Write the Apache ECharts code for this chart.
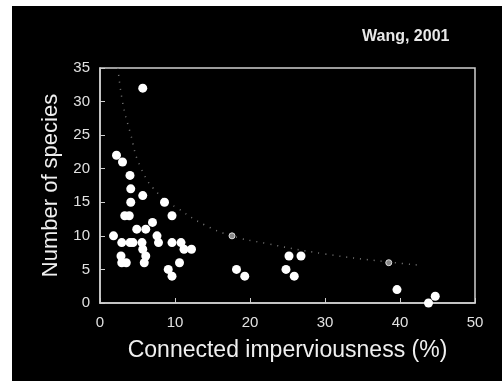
<!DOCTYPE html>
<html>
<head>
<meta charset="utf-8">
<script src="https://cdn.jsdelivr.net/npm/echarts@6/dist/echarts.min.js"></script>
<style>
  html, body { margin: 0; padding: 0; background: #fff; }
  #main { width: 502px; height: 381px; }
</style>
</head>
<body>
<div id="main"></div>
<script>
// imperviousness (%) / number of species
var siteX = [5.7, 2.2, 3.0, 4.0, 4.1, 4.1, 5.7, 8.6, 3.3, 3.9, 9.6, 7.0, 4.9, 6.1,
             1.8, 7.6, 2.9, 4.0, 4.4, 5.6, 7.8, 9.6, 10.8, 11.2, 12.2, 5.7, 2.8, 6.1,
             2.9, 3.5, 5.9, 10.6, 9.1, 9.6, 18.2, 19.3, 24.8, 25.2, 26.8, 25.9,
             39.6, 43.8, 44.7];
var siteY = [32, 22, 21, 19, 17, 15, 16, 15, 13, 13, 13, 12, 11, 11,
             10, 10, 9, 9, 9, 9, 9, 9, 9, 8, 8, 8, 7, 7,
             6, 6, 6, 6, 5, 4, 5, 4, 5, 7, 7, 4,
             2, 0, 1];
// dotted trend curve
var curveX = [2.4, 3.0, 4.0, 5.5, 8.0, 10.5, 14.0, 17.6, 22.0, 30.0, 38.5, 43.0];
var curveY = [35, 30, 25.5, 20, 16, 14, 11.6, 10, 8.9, 7.3, 6.1, 5.6];
var markX = [17.6, 38.5];
var markY = [10, 6];

function pairs(xs, ys) {
  return xs.map(function (x, i) { return [x, ys[i]]; });
}

var chart = echarts.init(document.getElementById('main'));
var axisGray = '#cfcfcf';

chart.setOption({
  backgroundColor: '#ffffff',
  animation: false,
  graphic: [
    { type: 'rect', z: -100, shape: { x: 12, y: 6, width: 490, height: 375 }, style: { fill: '#000' } },
    { type: 'text', left: 362, top: 29, style: { text: 'Wang, 2001', fill: '#e8e8e8', font: 'bold 16px "Liberation Sans", Arial, sans-serif' } }
  ],
  grid: {
    left: 100, right: 27, top: 68, bottom: 78,
    show: true, borderColor: axisGray, borderWidth: 1.5, backgroundColor: 'transparent'
  },
  xAxis: {
    type: 'value', min: 0, max: 50, interval: 10,
    name: 'Connected imperviousness (%)', nameLocation: 'middle', nameGap: 36,
    nameTextStyle: { color: '#f0f0f0', fontSize: 23, fontFamily: 'Liberation Sans' },
    axisLine: { lineStyle: { color: axisGray, width: 1.5 } },
    axisTick: { inside: true, length: 5, lineStyle: { color: axisGray } },
    axisLabel: { color: '#e0e0e0', fontSize: 15, margin: 12, fontFamily: 'Liberation Sans' },
    splitLine: { show: false }
  },
  yAxis: {
    type: 'value', min: 0, max: 35, interval: 5,
    name: 'Number of species', nameLocation: 'middle', nameGap: 36, nameRotate: 90,
    nameTextStyle: { color: '#f0f0f0', fontSize: 22, fontFamily: 'Liberation Sans' },
    axisLine: { lineStyle: { color: axisGray, width: 1.5 } },
    axisTick: { inside: true, length: 5, lineStyle: { color: axisGray } },
    axisLabel: { color: '#e0e0e0', fontSize: 15, margin: 10, fontFamily: 'Liberation Sans' },
    splitLine: { show: false }
  },
  series: [
    {
      type: 'line', smooth: true, showSymbol: false,
      data: pairs(curveX, curveY),
      lineStyle: { color: '#7a7a7a', width: 1.5, type: [1, 6] },
      z: 1
    },
    {
      type: 'scatter', symbolSize: 6,
      data: pairs(markX, markY),
      itemStyle: { color: '#888', borderColor: '#ddd', borderWidth: 1, opacity: 1 },
      z: 2
    },
    {
      type: 'scatter', symbolSize: 9,
      data: pairs(siteX, siteY),
      itemStyle: { color: '#ffffff', opacity: 1 },
      z: 3
    }
  ]
});
</script>
</body>
</html>
